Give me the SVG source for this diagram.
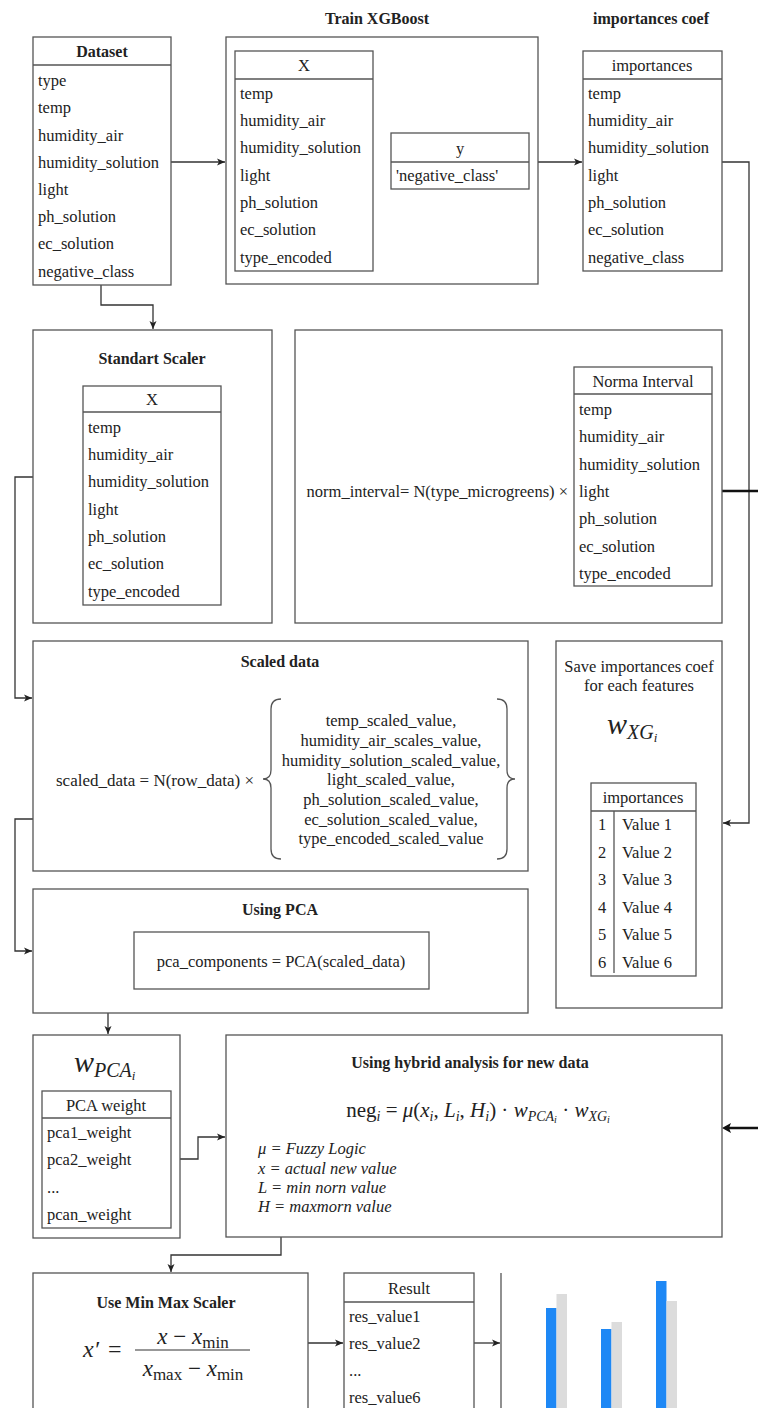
<svg xmlns="http://www.w3.org/2000/svg" width="758" height="1408" viewBox="0 0 758 1408">
<defs>
<style>
text{font-family:"Liberation Serif","Times New Roman",serif;fill:#222;}
.t{font-size:16.5px;dominant-baseline:central;}
.h{font-size:16.5px;dominant-baseline:central;text-anchor:middle;}
.b{font-size:16px;font-weight:bold;dominant-baseline:central;text-anchor:middle;}
.it{font-size:16.5px;font-style:italic;dominant-baseline:central;}
.box{fill:#fff;stroke:#555;stroke-width:1.3;}
.ln{fill:none;stroke:#555;stroke-width:1.3;}
.c{fill:none;stroke:#333;stroke-width:1.3;}
.thick{fill:none;stroke:#111;stroke-width:2.6;}
.m{font-family:"Liberation Serif","DejaVu Serif",serif;}
</style>
<marker id="arr" markerWidth="10" markerHeight="10" refX="8" refY="4" orient="auto" markerUnits="userSpaceOnUse">
<path d="M0,0.5 L8,4 L0,7.5 L2,4 Z" fill="#222"/>
</marker>
</defs>
<rect width="758" height="1408" fill="#fff"/>

<g id="connectors">
<path class="c" d="M171,162 H225" marker-end="url(#arr)"/>
<path class="c" d="M538,162 H582" marker-end="url(#arr)"/>
<path class="c" d="M101,285 V305 H153 V329" marker-end="url(#arr)"/>
<path class="c" d="M722,162 H749 V823 H723" marker-end="url(#arr)"/>
<path class="thick" d="M722,491 H758"/>
<path class="thick" d="M758,1128 H725"/>
<path d="M722,1128 L731,1123 L729,1128 L731,1133 Z" fill="#111"/>
<path class="c" d="M33,477 H15 V698 H32" marker-end="url(#arr)"/>
<path class="c" d="M33,819 H15 V951 H32" marker-end="url(#arr)"/>
<path class="c" d="M134,961 H108 V1034" marker-end="url(#arr)"/>
<path class="c" d="M171,1159 H198 V1137 H225" marker-end="url(#arr)"/>
<path class="c" d="M281,1237 V1255 H171 V1272" marker-end="url(#arr)"/>
<path class="c" d="M308,1343 H343" marker-end="url(#arr)"/>
<path class="c" d="M474,1343 H500" marker-end="url(#arr)"/>
</g>

<g id="dataset">
<rect class="box" x="33" y="37" width="138" height="248"/>
<line class="ln" x1="33" y1="65" x2="171" y2="65"/>
<text class="b" x="102" y="51">Dataset</text>
<text class="t" x="38" y="80">type</text>
<text class="t" x="38" y="107">temp</text>
<text class="t" x="38" y="135">humidity_air</text>
<text class="t" x="38" y="162">humidity_solution</text>
<text class="t" x="38" y="189">light</text>
<text class="t" x="38" y="216">ph_solution</text>
<text class="t" x="38" y="243">ec_solution</text>
<text class="t" x="38" y="271">negative_class</text>
</g>

<g id="train-xgboost">
<text class="b" x="377" y="18">Train XGBoost</text>
<rect class="box" x="226" y="37" width="312" height="247"/>
<g id="train-x">
<rect class="box" x="235" y="51" width="138" height="220"/>
<line class="ln" x1="235" y1="79" x2="373" y2="79"/>
<text class="h" x="304" y="65">X</text>
<text class="t" x="240" y="93">temp</text>
<text class="t" x="240" y="120">humidity_air</text>
<text class="t" x="240" y="147">humidity_solution</text>
<text class="t" x="240" y="175">light</text>
<text class="t" x="240" y="202">ph_solution</text>
<text class="t" x="240" y="229">ec_solution</text>
<text class="t" x="240" y="257">type_encoded</text>
</g>
<g id="train-y">
<rect class="box" x="391" y="133" width="138" height="56"/>
<line class="ln" x1="391" y1="162" x2="529" y2="162"/>
<text class="h" x="460" y="148">y</text>
<text class="t" x="396" y="175">'negative_class'</text>
</g>
</g>

<g id="importances-coef">
<text class="b" x="651" y="18">importances coef</text>
<rect class="box" x="583" y="51" width="139" height="220"/>
<line class="ln" x1="583" y1="79" x2="722" y2="79"/>
<text class="h" x="652" y="65">importances</text>
<text class="t" x="588" y="93">temp</text>
<text class="t" x="588" y="120">humidity_air</text>
<text class="t" x="588" y="147">humidity_solution</text>
<text class="t" x="588" y="175">light</text>
<text class="t" x="588" y="202">ph_solution</text>
<text class="t" x="588" y="229">ec_solution</text>
<text class="t" x="588" y="257">negative_class</text>
</g>

<g id="standart-scaler">
<rect class="box" x="33" y="330" width="239" height="293"/>
<text class="b" x="152" y="358">Standart Scaler</text>
<rect class="box" x="83" y="386" width="138" height="219"/>
<line class="ln" x1="83" y1="412" x2="221" y2="412"/>
<text class="h" x="152" y="399">X</text>
<text class="t" x="88" y="427">temp</text>
<text class="t" x="88" y="454">humidity_air</text>
<text class="t" x="88" y="481">humidity_solution</text>
<text class="t" x="88" y="509">light</text>
<text class="t" x="88" y="536">ph_solution</text>
<text class="t" x="88" y="563">ec_solution</text>
<text class="t" x="88" y="591">type_encoded</text>
</g>

<g id="norm-interval">
<rect class="box" x="295" y="330" width="427" height="293"/>
<text class="t" x="568" y="491" text-anchor="end">norm_interval= N(type_microgreens) ×</text>
<rect class="box" x="574" y="367" width="138" height="219"/>
<line class="ln" x1="574" y1="394" x2="712" y2="394"/>
<text class="h" x="643" y="381">Norma Interval</text>
<text class="t" x="579" y="409">temp</text>
<text class="t" x="579" y="436">humidity_air</text>
<text class="t" x="579" y="464">humidity_solution</text>
<text class="t" x="579" y="491">light</text>
<text class="t" x="579" y="518">ph_solution</text>
<text class="t" x="579" y="546">ec_solution</text>
<text class="t" x="579" y="573">type_encoded</text>
</g>

<g id="scaled-data">
<rect class="box" x="33" y="641" width="495" height="230"/>
<text class="b" x="280" y="661">Scaled data</text>
<text class="t" x="56" y="780" style="font-size:17px">scaled_data = N(row_data) ×</text>
<path class="ln" d="M281,699 Q271,699 271,709 V770 Q271,779 263,779 Q271,779 271,788 V849 Q271,859 281,859"/>
<path class="ln" d="M497,699 Q507,699 507,709 V770 Q507,779 515,779 Q507,779 507,788 V849 Q507,859 497,859"/>
<text class="h" x="391" y="720">temp_scaled_value,</text>
<text class="h" x="391" y="740">humidity_air_scales_value,</text>
<text class="h" x="391" y="760">humidity_solution_scaled_value,</text>
<text class="h" x="391" y="779">light_scaled_value,</text>
<text class="h" x="391" y="799">ph_solution_scaled_value,</text>
<text class="h" x="391" y="819">ec_solution_scaled_value,</text>
<text class="h" x="391" y="838">type_encoded_scaled_value</text>
</g>

<g id="save-importances">
<rect class="box" x="556" y="641" width="166" height="367"/>
<text class="h" x="639" y="666">Save importances coef</text>
<text class="h" x="639" y="685">for each features</text>
<text class="m" x="607" y="734" font-size="30" font-style="italic">w<tspan font-size="20" dy="5">XG</tspan><tspan font-size="13" dy="3">i</tspan></text>
<rect class="box" x="591" y="783" width="105" height="193"/>
<line class="ln" x1="591" y1="811" x2="696" y2="811"/>
<line class="ln" x1="614" y1="811" x2="614" y2="973"/>
<text class="h" x="643" y="797">importances</text>
<text class="h" x="602" y="824">1</text><text class="t" x="622" y="824">Value 1</text>
<text class="h" x="602" y="852">2</text><text class="t" x="622" y="852">Value 2</text>
<text class="h" x="602" y="879">3</text><text class="t" x="622" y="879">Value 3</text>
<text class="h" x="602" y="907">4</text><text class="t" x="622" y="907">Value 4</text>
<text class="h" x="602" y="934">5</text><text class="t" x="622" y="934">Value 5</text>
<text class="h" x="602" y="962">6</text><text class="t" x="622" y="962">Value 6</text>
</g>

<g id="using-pca">
<rect class="box" x="33" y="889" width="495" height="124"/>
<text class="b" x="280" y="909">Using PCA</text>
<rect class="box" x="134" y="932" width="295" height="57"/>
<text class="h" x="281" y="961">pca_components = PCA(scaled_data)</text>
</g>

<g id="pca-weight">
<rect class="box" x="33" y="1035" width="147" height="203"/>
<text class="m" x="74" y="1072" font-size="30" font-style="italic">w<tspan font-size="20" dy="5">PCA</tspan><tspan font-size="13" dy="3">i</tspan></text>
<rect class="box" x="42" y="1091" width="129" height="137"/>
<line class="ln" x1="42" y1="1118" x2="171" y2="1118"/>
<text class="h" x="106" y="1105">PCA weight</text>
<text class="t" x="47" y="1132">pca1_weight</text>
<text class="t" x="47" y="1159">pca2_weight</text>
<text class="t" x="47" y="1187">...</text>
<text class="t" x="47" y="1214">pcan_weight</text>
</g>

<g id="hybrid-analysis">
<rect class="box" x="226" y="1035" width="496" height="202"/>
<text class="b" x="470" y="1062">Using hybrid analysis for new data</text>
<text class="m" x="478" y="1117" font-size="21" text-anchor="middle">neg<tspan font-size="14" font-style="italic" dy="4">i</tspan><tspan dy="-4"> = </tspan><tspan font-style="italic">μ</tspan>(<tspan font-style="italic">x</tspan><tspan font-size="14" font-style="italic" dy="4">i</tspan><tspan dy="-4">, </tspan><tspan font-style="italic">L</tspan><tspan font-size="14" font-style="italic" dy="4">i</tspan><tspan dy="-4">, </tspan><tspan font-style="italic">H</tspan><tspan font-size="14" font-style="italic" dy="4">i</tspan><tspan dy="-4">) · </tspan><tspan font-style="italic">w</tspan><tspan font-size="14" font-style="italic" dy="4">PCA</tspan><tspan font-size="10" font-style="italic" dy="2">i</tspan><tspan dy="-6"> · </tspan><tspan font-style="italic">w</tspan><tspan font-size="14" font-style="italic" dy="4">XG</tspan><tspan font-size="10" font-style="italic" dy="2">i</tspan></text>
<text class="it" x="258" y="1148">μ = Fuzzy Logic</text>
<text class="it" x="258" y="1168">x = actual new value</text>
<text class="it" x="258" y="1187">L = min norn value</text>
<text class="it" x="258" y="1206">H = maxmorn value</text>
</g>

<g id="min-max-scaler">
<rect class="box" x="33" y="1273" width="275" height="140"/>
<text class="b" x="166" y="1302">Use Min Max Scaler</text>
<text class="m" x="83" y="1357" font-size="24" font-style="italic">x′</text>
<text class="m" x="108" y="1357" font-size="24">=</text>
<text class="m" x="193" y="1344" font-size="23" text-anchor="middle"><tspan font-style="italic">x</tspan> − <tspan font-style="italic">x</tspan><tspan font-size="17" dy="4">min</tspan></text>
<line x1="135" y1="1350" x2="250" y2="1350" stroke="#333" stroke-width="1.1"/>
<text class="m" x="193" y="1376" font-size="23" text-anchor="middle"><tspan font-style="italic">x</tspan><tspan font-size="17" dy="4">max</tspan><tspan dy="-4"> − </tspan><tspan font-style="italic">x</tspan><tspan font-size="17" dy="4">min</tspan></text>
</g>

<g id="result">
<rect class="box" x="344" y="1273" width="130" height="140"/>
<line class="ln" x1="344" y1="1302" x2="474" y2="1302"/>
<text class="h" x="409" y="1288">Result</text>
<text class="t" x="349" y="1316">res_value1</text>
<text class="t" x="349" y="1343">res_value2</text>
<text class="t" x="349" y="1370">...</text>
<text class="t" x="349" y="1397">res_value6</text>
</g>

<g id="chart">
<line x1="501" y1="1273" x2="501" y2="1408" stroke="#555" stroke-width="1.3"/>
<rect x="546" y="1308" width="10.5" height="100" fill="#1E88F5"/>
<rect x="556.5" y="1294" width="10.5" height="114" fill="#DCDCDC"/>
<rect x="601" y="1329" width="10.5" height="79" fill="#1E88F5"/>
<rect x="611.5" y="1322" width="10.5" height="86" fill="#DCDCDC"/>
<rect x="656" y="1281" width="10.5" height="127" fill="#1E88F5"/>
<rect x="666.5" y="1301" width="10.5" height="107" fill="#DCDCDC"/>
</g>
</svg>
